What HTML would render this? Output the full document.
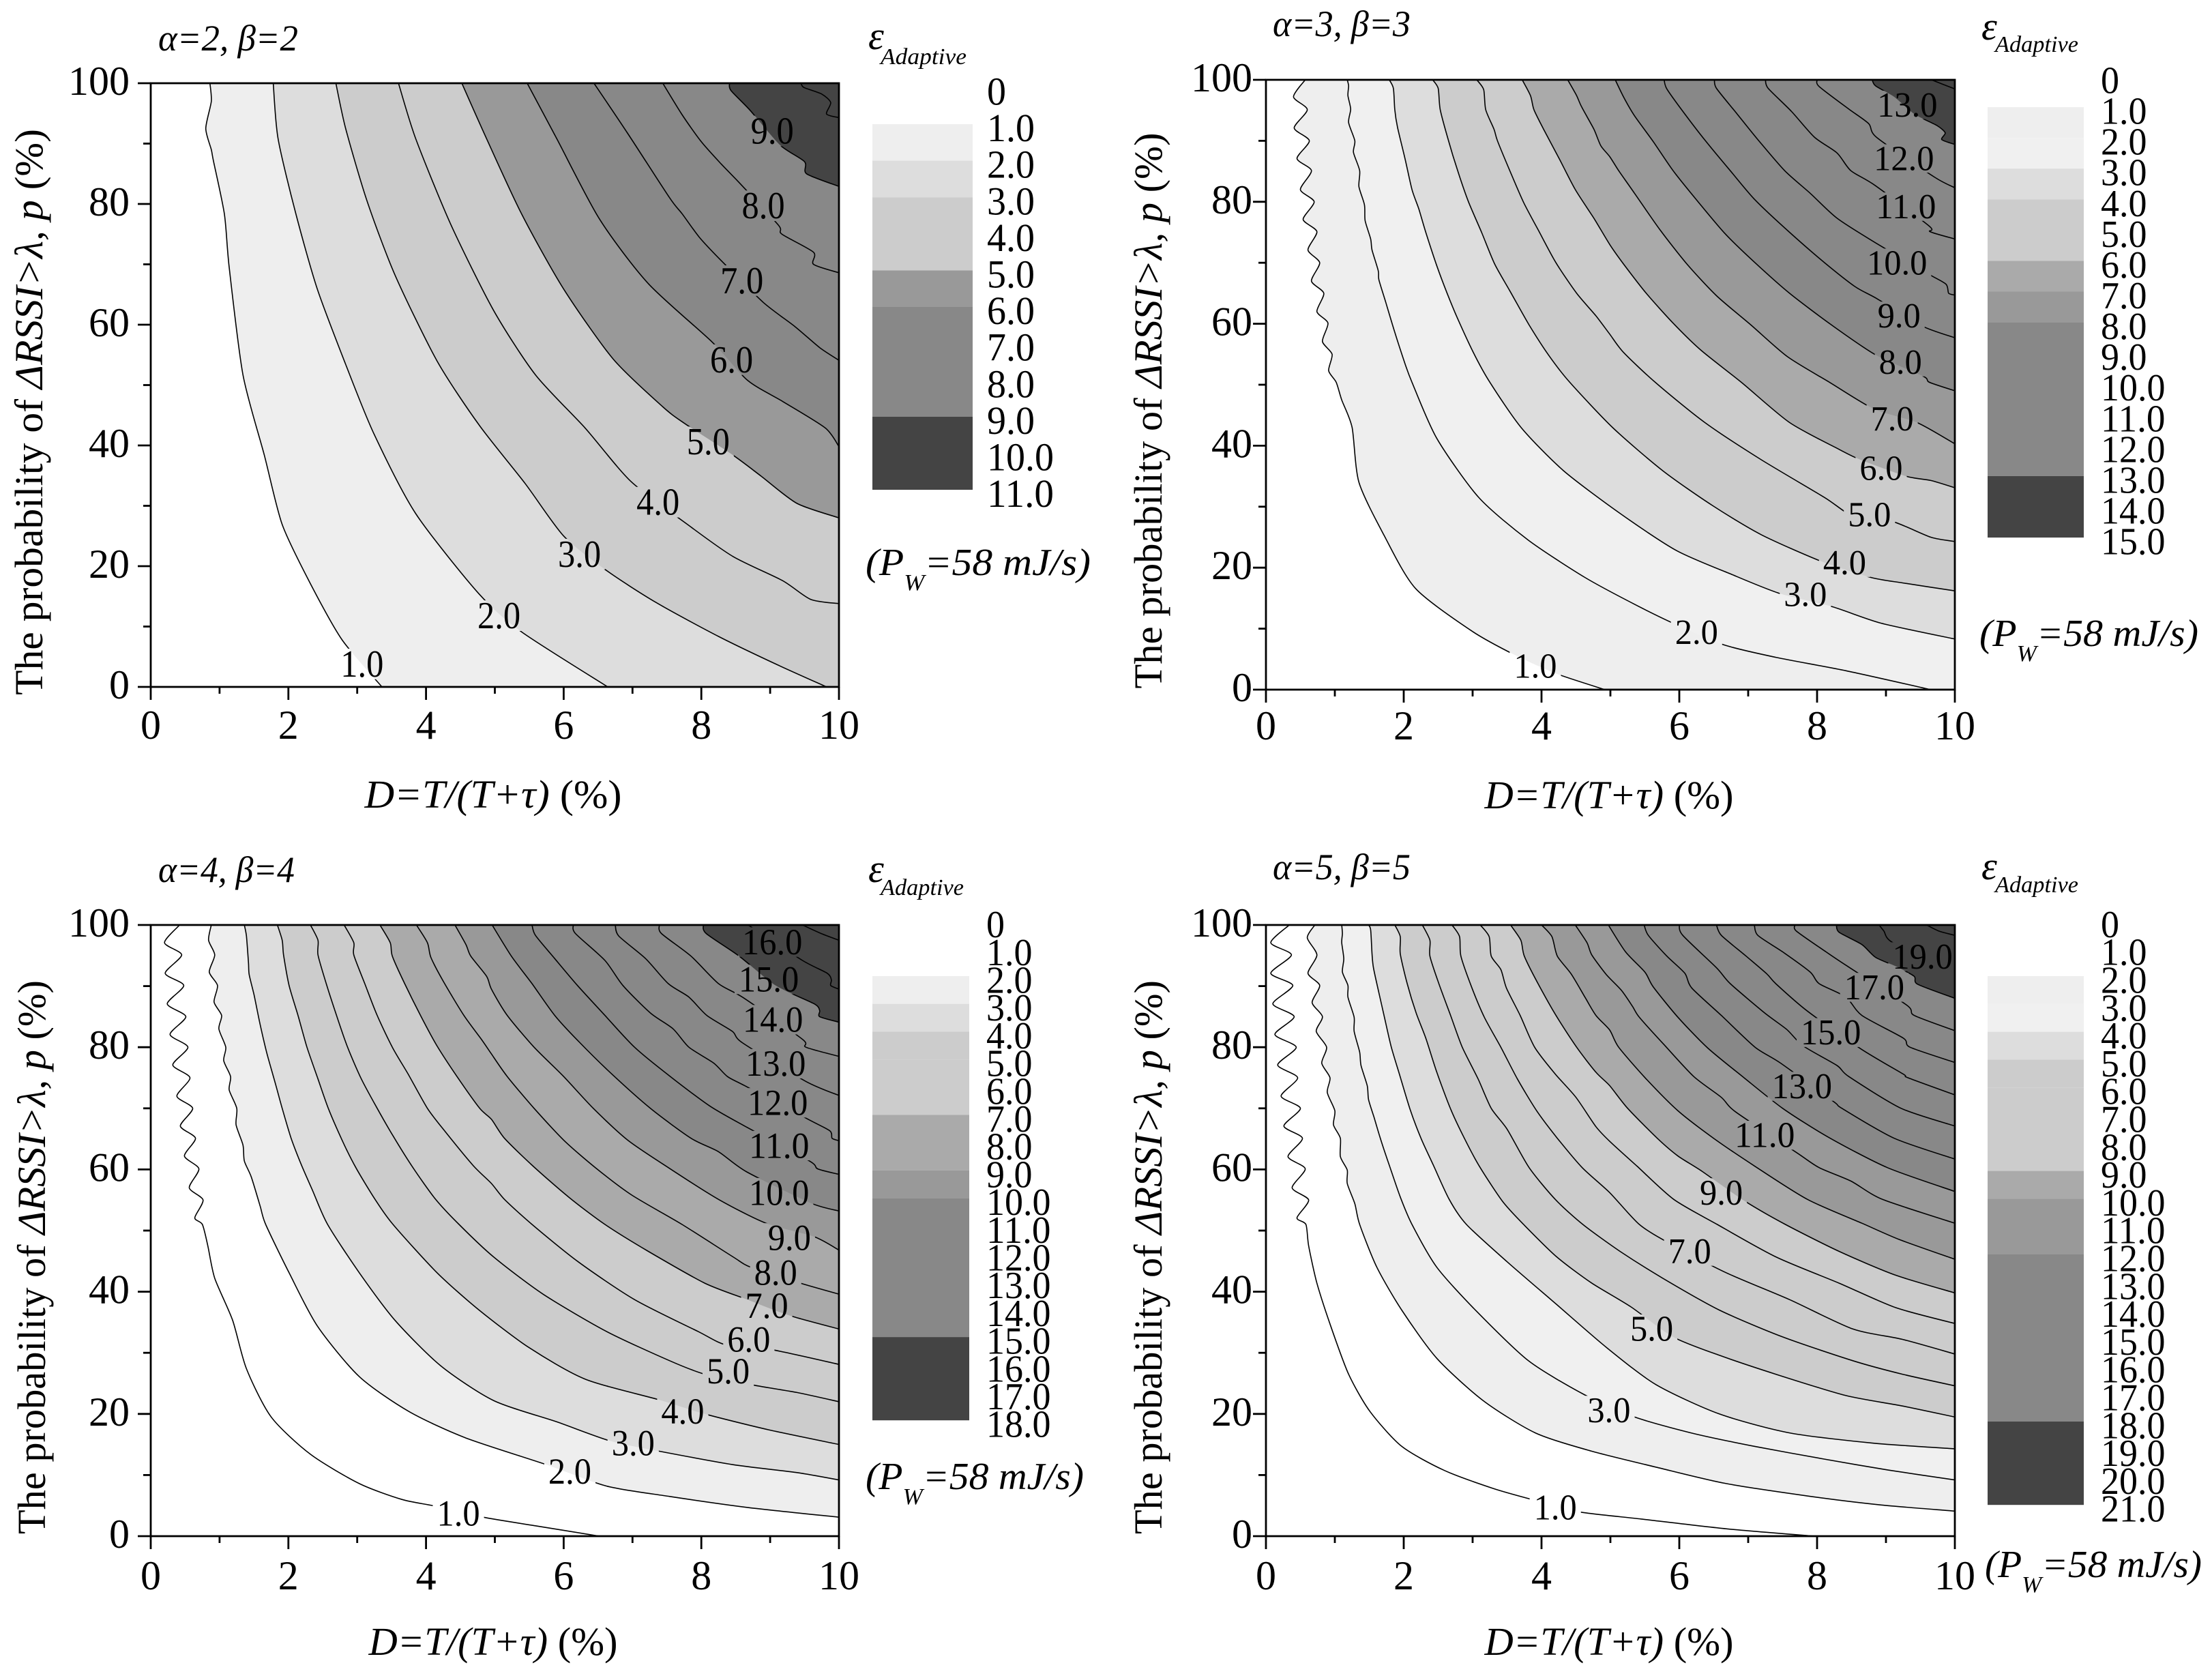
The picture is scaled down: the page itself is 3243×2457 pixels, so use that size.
<!DOCTYPE html>
<html lang="en">
<head>
<meta charset="utf-8">
<title>Adaptive energy contour charts</title>
<style>
html,body{margin:0;padding:0;background:#fff}
svg{display:block}
text{font-family:"Liberation Serif",serif;fill:#000}
.it{font-style:italic}
</style>
</head>
<body>
<svg id="figure" xmlns="http://www.w3.org/2000/svg" width="3243" height="2457" viewBox="0 0 3243 2457">
<rect x="0" y="0" width="3243" height="2457" fill="#fff"/>
<g id="panel-1"></g>
<g id="panel-2"></g>
<g id="panel-3"></g>
<g id="panel-4"></g>

<g>
<text class="it" x="232" y="74" font-size="54" textLength="205" lengthAdjust="spacingAndGlyphs">α=2, β=2</text>
<text transform="translate(62,604) rotate(-90)" text-anchor="middle" font-size="58" textLength="830" lengthAdjust="spacingAndGlyphs">The probability of <tspan class="it">ΔRSSI&gt;λ, p</tspan> (%)</text>
<text x="723" y="1184" text-anchor="middle" font-size="58" textLength="377" lengthAdjust="spacingAndGlyphs"><tspan class="it">D=T/(T+τ)</tspan> (%)</text>
<text class="it" x="1273" y="72" font-size="58">ε</text>
<text class="it" x="1291" y="94" font-size="34" textLength="126" lengthAdjust="spacingAndGlyphs">Adaptive</text>
<text class="it" x="1269" y="843" font-size="56" textLength="330" lengthAdjust="spacingAndGlyphs">(P<tspan dy="22" font-size="34">W</tspan><tspan dy="-22">=58 mJ/s)</tspan></text>
</g>
<g>
<text class="it" x="1866" y="53" font-size="54" textLength="202" lengthAdjust="spacingAndGlyphs">α=3, β=3</text>
<text transform="translate(1703,602) rotate(-90)" text-anchor="middle" font-size="58" textLength="815" lengthAdjust="spacingAndGlyphs">The probability of <tspan class="it">ΔRSSI&gt;λ, p</tspan> (%)</text>
<text x="2359" y="1185" text-anchor="middle" font-size="58" textLength="365" lengthAdjust="spacingAndGlyphs"><tspan class="it">D=T/(T+τ)</tspan> (%)</text>
<text class="it" x="2905" y="58" font-size="58">ε</text>
<text class="it" x="2925" y="76" font-size="34" textLength="122" lengthAdjust="spacingAndGlyphs">Adaptive</text>
<text class="it" x="2902" y="947" font-size="56" textLength="321" lengthAdjust="spacingAndGlyphs">(P<tspan dy="22" font-size="34">W</tspan><tspan dy="-22">=58 mJ/s)</tspan></text>
</g>
<g>
<text class="it" x="232" y="1293" font-size="54" textLength="200" lengthAdjust="spacingAndGlyphs">α=4, β=4</text>
<text transform="translate(66,1843) rotate(-90)" text-anchor="middle" font-size="58" textLength="812" lengthAdjust="spacingAndGlyphs">The probability of <tspan class="it">ΔRSSI&gt;λ, p</tspan> (%)</text>
<text x="723" y="2426" text-anchor="middle" font-size="58" textLength="365" lengthAdjust="spacingAndGlyphs"><tspan class="it">D=T/(T+τ)</tspan> (%)</text>
<text class="it" x="1273" y="1293" font-size="58">ε</text>
<text class="it" x="1291" y="1312" font-size="34" textLength="122" lengthAdjust="spacingAndGlyphs">Adaptive</text>
<text class="it" x="1269" y="2183" font-size="56" textLength="320" lengthAdjust="spacingAndGlyphs">(P<tspan dy="22" font-size="34">W</tspan><tspan dy="-22">=58 mJ/s)</tspan></text>
</g>
<g>
<text class="it" x="1866" y="1289" font-size="54" textLength="202" lengthAdjust="spacingAndGlyphs">α=5, β=5</text>
<text transform="translate(1703,1843) rotate(-90)" text-anchor="middle" font-size="58" textLength="812" lengthAdjust="spacingAndGlyphs">The probability of <tspan class="it">ΔRSSI&gt;λ, p</tspan> (%)</text>
<text x="2359" y="2426" text-anchor="middle" font-size="58" textLength="365" lengthAdjust="spacingAndGlyphs"><tspan class="it">D=T/(T+τ)</tspan> (%)</text>
<text class="it" x="2905" y="1289" font-size="58">ε</text>
<text class="it" x="2925" y="1308" font-size="34" textLength="122" lengthAdjust="spacingAndGlyphs">Adaptive</text>
<text class="it" x="2910" y="2312" font-size="56" textLength="318" lengthAdjust="spacingAndGlyphs">(P<tspan dy="22" font-size="34">W</tspan><tspan dy="-22">=58 mJ/s)</tspan></text>
</g>
</svg>
<script>
// ---- shared axis values ----
const xTickValues = [0,2,4,6,8,10];
const xMinorValues = [1,3,5,7,9];
const yTickValues = [0,20,40,60,80,100];
const yMinorValues = [10,30,50,70,90];

// ---- panel 1 (alpha=2, beta=2): contours as [D, p] pairs, level = index + 1 ----
const p1Contours = [
[[.86,100],[.88,97],[.80,92.5],[.88,89],[.91,87.2],[1.07,78.3],[1.14,69.5],[1.34,51.7],[1.65,38.4],[1.91,26.9],[2.32,17.1],[2.78,7.8],[3.36,0]],
[[1.78,100],[1.85,90.8],[2.11,78.3],[2.42,65.9],[2.83,53.5],[3.24,42],[3.85,28.7],[4.77,15.4],[5.39,9.1],[6.64,0]],
[[2.69,100],[2.83,92.6],[3.14,80.6],[3.55,68.2],[4.16,54],[4.77,43.4],[5.44,33.7],[6,25],[6.62,19.3],[7.34,14],[8.26,8.3],[9.08,3.8],[9.82,0]],
[[3.6,100],[3.85,90.8],[4.36,76.6],[4.98,62.4],[5.59,51.7],[6.31,42.9],[6.98,34],[7.8,26.9],[8.46,21.6],[9.18,17.6],[9.59,14.5],[10,13.8]],
[[4.52,100],[4.88,90.8],[5.39,78.3],[6,65.9],[6.72,54.3],[7.44,46.4],[7.75,43.7],[8.46,38.4],[8.87,34.9],[9.39,30.4],[10,28]],
[[5.47,100],[5.9,90.8],[6.52,77.5],[7.23,66.8],[8.16,57.1],[8.67,50.8],[9.18,47.3],[9.8,42.9],[10,39.8]],
[[6.44,100],[6.93,91.7],[7.54,81],[7.72,78.4],[7.97,74.5],[8.29,70.6],[8.9,63.7],[9.36,59.7],[9.72,56.2],[10,54.1]],
[[7.44,100],[7.72,94.8],[8,90.3],[8.29,86.6],[8.57,83.3],[9.12,76.5],[9.17,75],[9.63,72],[9.63,70],[10,68.6]],
[[8.41,100],[8.43,98.8],[8.71,95.5],[9.14,89.8],[9.5,87],[9.53,85],[10,82.9]],
[[9.45,100],[9.49,99.3],[9.75,98.2],[9.88,96.8],[9.82,94.9],[10,94.3]]
];
const p1Fills = ['#eeeeee','#dddddd','#cccccc','#cccccc','#999999','#888888','#888888','#888888','#444444','#444444'];
const p1LabelTexts = ['1.0','2.0','3.0','4.0','5.0','6.0','7.0','8.0','9.0'];
const p1LabelD = [3.07,5.06,6.23,7.37,8.1,8.44,8.59,8.9,9.03];
const p1LabelP = [3.8,11.8,22,30.6,40.6,54.2,67.3,79.7,92.1];
const p1LegendLabels = ['0','1.0','2.0','3.0','4.0','5.0','6.0','7.0','8.0','9.0','10.0','11.0'];
const p1LegendStarts = [1,2,3,5,6,9];
const p1LegendEnds = [2,3,5,6,9,11];
const p1LegendFills = ['#eeeeee','#dddddd','#cccccc','#999999','#888888','#444444'];

// ---- panel 2 (alpha=3, beta=3) ----
const p2Contours = [
[[.57,100],[.40,97.2],[.60,95.1],[.41,92.1],[.63,90],[.45,87.1],[.66,85.1],[.50,82],[.70,80],[.54,77.1],[.74,75.1],[.61,72.1],[.78,70],[.66,67],[.84,65],[.74,62],[.90,60.1],[.82,57.1],[.96,55],[.91,52.3],[1.02,50.4],[1.1,47.5],[1.25,43],[1.35,34],[1.71,25.4],[2.17,16.6],[2.99,9.6],[3.61,5.7],[4.22,2.6],[4.92,0]],
[[1.18,100],[1.20,99],[1.19,97.4],[1.23,95.2],[1.20,93],[1.29,90],[1.27,88.1],[1.36,85.1],[1.35,82.5],[1.43,79.5],[1.44,76.9],[1.52,73.9],[1.54,72.1],[1.63,68.7],[1.64,67.2],[1.74,63.5],[1.87,58.6],[2.02,53.4],[2.12,50.4],[2.48,41.2],[3.09,31.5],[3.81,24.5],[4.63,18.4],[5.35,14],[5.91,10.9],[6.63,7.4],[7.4,5.3],[8.42,3.1],[9.65,0]],
[[1.79,100],[1.85,98.6],[1.87,95.1],[1.91,92.2],[2.02,87],[2.12,82],[2.22,78.8],[2.32,75],[2.48,69.5],[2.63,65],[2.78,60.9],[3.01,55.3],[3.25,50.4],[3.71,42.9],[4.32,35.9],[5.14,28.9],[5.96,22.8],[6.78,18.8],[7.45,15.8],[8.22,13.6],[8.93,10.9],[10,8.3]],
[[2.42,100],[2.5,98.6],[2.53,95.1],[2.65,90],[2.78,85.2],[2.94,80],[3.13,75],[3.32,69.8],[3.54,65.4],[3.82,59.8],[4.1,54.9],[4.41,50.4],[5.04,42.9],[5.76,35.9],[6.48,30.2],[7.19,25.4],[8.07,21],[8.78,18.4],[9.24,17.5],[10,16.2]],
[[3.06,100],[3.16,98.4],[3.19,95.1],[3.31,91.9],[3.36,90],[3.54,85.1],[3.74,79.9],[3.97,75],[4.21,70],[4.51,65],[4.79,61.3],[4.99,58.3],[5.19,55.3],[5.65,50.4],[6.37,43.8],[7.19,37.7],[8.11,31.5],[8.52,28.5],[9.09,27.6],[9.65,25],[10,24.3]],
[[3.72,100],[3.84,97.4],[3.89,95.1],[4.03,91.9],[4.26,87],[4.49,82],[4.76,77.3],[4.99,73],[5.19,69.8],[5.52,65],[5.91,60.1],[6.31,55.7],[6.9,50.4],[7.6,43.8],[8.32,39.4],[8.63,37.7],[9.29,35],[9.65,34.3],[10,33.1]],
[[4.38,100],[4.51,97.4],[4.58,95.6],[4.76,91.9],[4.86,89.2],[4.99,87.4],[5.12,85.1],[5.35,81.4],[5.72,75.4],[6.11,69.8],[6.54,64.6],[7.04,59.8],[7.57,54.6],[8.18,50.4],[8.83,46],[9.45,43.8],[10,40.3]],
[[5.07,100],[5.19,97.2],[5.35,94.1],[5.62,89.9],[5.91,85.1],[6.28,79.9],[6.67,74.7],[7.1,70],[7.6,65],[8.21,59.8],[8.85,54.9],[9.54,51.4],[9.63,50.4],[10,49]],
[[5.78,100],[5.82,98.5],[6.08,94.4],[6.38,90],[6.74,85.1],[7.1,80.3],[7.6,75],[8.11,70],[8.55,66.1],[8.87,64.1],[9.53,59.6],[10,57.7]],
[[6.51,100],[6.54,98.6],[6.84,94.4],[7.14,90.2],[7.53,85.1],[7.9,81.4],[8.29,77.3],[8.83,73.4],[9.61,68.2],[9.87,66.5],[9.91,65],[10,64.7]],
[[7.25,100],[7.29,98.6],[7.63,94.8],[7.96,90.6],[8.29,88],[8.49,85.1],[8.84,82.7],[9.63,76],[9.64,75.1],[10,73.9]],
[[8,100],[8.03,98.9],[8.46,95.2],[8.75,92.8],[8.87,90.5],[9.71,84],[10,82.3]],
[[8.8,100],[8.85,99],[9.12,97.2],[9.41,94.4],[9.74,92.5],[9.86,91.3],[9.81,90.2],[10,89.4]],
[[9.66,100],[10,98.5]]
];
const p2Fills = ['#eeeeee','#f0f0f0','#dddddd','#cccccc','#cccccc','#aaaaaa','#999999','#888888','#888888','#888888','#888888','#888888','#444444','#444444'];
const p2LabelTexts = ['1.0','2.0','3.0','4.0','5.0','6.0','7.0','8.0','9.0','10.0','11.0','12.0','13.0'];
const p2LabelD = [3.91,6.25,7.83,8.4,8.76,8.93,9.09,9.21,9.19,9.16,9.29,9.26,9.31];
const p2LabelP = [3.9,9.4,15.6,20.8,28.7,36.3,44.4,53.7,61.3,70,79.2,87.1,95.9];
const p2LegendLabels = ['0','1.0','2.0','3.0','4.0','5.0','6.0','7.0','8.0','9.0','10.0','11.0','12.0','13.0','14.0','15.0'];
const p2LegendStarts = [1,2,3,4,6,7,8,13];
const p2LegendEnds = [2,3,4,6,7,8,13,15];
const p2LegendFills = ['#eeeeee','#f0f0f0','#dddddd','#cccccc','#aaaaaa','#999999','#888888','#444444'];

// ---- panel 3 (alpha=4, beta=4) ----
const p3Contours = [
[[.42,100],[.20,97.1],[.45,95.1],[.21,92.1],[.48,90.1],[.24,87.1],[.51,85],[.28,82.1],[.54,80],[.32,77.1],[.57,75],[.38,72],[.61,70],[.43,67.1],[.65,65.1],[.49,62.2],[.70,60.1],[.56,57],[.76,55],[.64,52.1],[.75,51],[.83,47.5],[.93,42.2],[1.19,35.3],[1.39,27.4],[1.75,19.5],[2.32,13.4],[3.03,8.6],[3.65,6],[4.14,4.9],[4.83,3.1],[5.59,1.7],[6.52,0]],
[[.88,100],[.84,97.5],[.93,95.1],[.85,92.3],[.97,90.1],[.92,87.4],[1.03,85.2],[.99,83],[1.09,80],[1.06,77.8],[1.16,75.2],[1.14,73],[1.25,70],[1.24,67.3],[1.34,64],[1.36,61.4],[1.46,58.8],[1.59,54],[1.67,51],[2.01,43.1],[2.42,34.4],[3.03,26.1],[3.75,20.4],[4.57,16.1],[5.75,11.7],[6.62,8.2],[7.54,6.5],[8.67,4.7],[10,3.1]],
[[1.36,100],[1.39,98.2],[1.42,93.8],[1.43,91.9],[1.50,88.6],[1.59,83.7],[1.69,78.9],[1.81,74.1],[1.91,70],[2.04,65.1],[2.19,60.7],[2.35,56.6],[2.57,51],[3.03,43.1],[3.55,35.3],[4.21,27.9],[4.98,22.2],[5.9,18.7],[6.67,15.6],[7.39,13.9],[8.46,11.7],[9.39,10.4],[10,9.2]],
[[1.84,100],[1.91,97.5],[1.93,95.1],[2.01,90.1],[2.14,85.2],[2.27,80],[2.43,74.8],[2.58,70],[2.78,64.8],[2.98,60.3],[3.26,55.1],[3.52,51],[4.16,43.1],[4.77,37],[5.49,30.9],[6.31,25.7],[7.39,22.3],[8.05,20],[8.98,17.4],[10,15]],
[[2.32,100],[2.43,97.5],[2.43,95.1],[2.55,90.4],[2.7,85.2],[2.86,80],[3.06,74.8],[3.29,70],[3.52,65.5],[3.81,60.3],[4.14,55.1],[4.48,51],[4.98,45.7],[5.7,39.6],[6.62,33.5],[7.54,28.7],[8.05,26.5],[8.72,24.8],[9.39,23.5],[10,22]],
[[2.81,100],[2.95,97.1],[2.95,95.1],[3.11,90.4],[3.29,85.2],[3.51,80],[3.74,75.6],[4.02,70],[4.25,66.6],[4.68,60.7],[4.95,57.7],[5.14,55.1],[5.54,51],[6.21,44.9],[7.03,38.7],[7.95,33.5],[8.36,31.3],[9.03,30.5],[10,28.1]],
[[3.33,100],[3.48,97.1],[3.51,94.9],[3.69,90.4],[3.92,85.2],[4.15,80.4],[4.45,75.2],[4.78,70],[4.95,68.2],[5.14,65.1],[5.54,60.7],[6.07,55.5],[6.6,51],[7.23,46.6],[8.05,41.4],[8.67,38.7],[9.28,36.1],[10,33.9]],
[[3.86,100],[4.02,97.1],[4.07,94.7],[4.25,90.8],[4.55,85.2],[4.81,81.2],[4.95,78.9],[5.18,75.2],[5.57,70],[6,64.8],[6.46,60.3],[6.99,55.8],[7.72,51],[8.46,45.7],[8.72,44],[9.44,41.4],[10,39.6]],
[[4.42,100],[4.58,96.8],[4.65,94.9],[4.88,91.6],[4.95,89.5],[5.18,85.2],[5.57,80],[6,75.2],[6.43,70],[6.93,64.8],[7.52,60.3],[8.25,55.1],[8.94,51.2],[9.64,49],[10,46.8]],
[[4.96,100],[5.24,94.9],[5.54,90.4],[5.87,85.2],[6.23,80.8],[6.7,75.6],[7.26,70],[7.85,65.1],[8.25,62.9],[8.66,59.6],[9.59,54.5],[10,53.2]],
[[5.54,100],[5.59,98.3],[5.87,94.5],[6.2,90.1],[6.6,85.2],[7.03,80],[7.55,75.2],[8.12,70.4],[8.63,67.1],[9.57,61.4],[9.69,60.1],[10,59.2]],
[[6.14,100],[6.17,98.6],[6.6,94.2],[6.86,90.1],[7.26,85.6],[7.59,83],[7.82,80],[8.18,77.4],[8.38,75.2],[8.63,73.7],[9.57,68.1],[9.87,66.3],[9.9,65.1],[10,64.7]],
[[6.75,100],[6.8,98.2],[7.19,94.5],[7.52,90.4],[7.82,88.2],[8.08,85.2],[8.45,82.6],[8.6,80.7],[9.52,74.4],[10,72.1]],
[[7.39,100],[7.42,98.6],[7.85,94.9],[8.25,90.4],[8.61,88.1],[9.47,81.3],[9.52,80],[10,78.5]],
[[8.03,100],[8.07,98.6],[8.55,94.9],[9.08,90.1],[9.64,87.1],[9.72,86],[9.72,85],[10,84.1]],
[[8.68,100],[9.47,94.2],[9.83,92.1],[9.89,91],[9.88,90.1],[10,89.5]],
[[9.47,100],[9.74,98.6],[10,97.5]]
];
const p3Fills = ['#ffffff','#eeeeee','#dddddd','#cccccc','#cccccc','#cccccc','#aaaaaa','#aaaaaa','#999999','#888888','#888888','#888888','#888888','#888888','#444444','#444444','#444444'];
const p3LabelTexts = ['1.0','2.0','3.0','4.0','5.0','6.0','7.0','8.0','9.0','10.0','11.0','12.0','13.0','14.0','15.0','16.0'];
const p3LabelD = [4.47,6.09,7.01,7.73,8.39,8.69,8.95,9.08,9.28,9.13,9.13,9.11,9.08,9.04,8.98,9.03];
const p3LabelP = [3.7,10.6,15.2,20.4,27,32.2,37.7,43.1,48.8,56.2,63.9,70.9,77.3,84.5,91.1,97.2];
const p3LegendLabels = ['0','1.0','2.0','3.0','4.0','5.0','6.0','7.0','8.0','9.0','10.0','11.0','12.0','13.0','14.0','15.0','16.0','17.0','18.0'];
const p3LegendStarts = [2,3,4,5,7,9,10,15];
const p3LegendEnds = [3,4,5,7,9,10,15,18];
const p3LegendFills = ['#eeeeee','#dddddd','#cccccc','#cccccc','#aaaaaa','#999999','#888888','#444444'];

// ---- panel 4 (alpha=5, beta=5) ----
const p4Contours = [
[[.34,100],[.07,97.1],[.37,95.1],[.07,92.1],[.39,90.1],[.10,87.1],[.41,85],[.13,82.1],[.44,80],[.17,77.1],[.46,75],[.22,72],[.5,70],[.26,67.1],[.53,65.1],[.32,62.1],[.57,60.1],[.38,57],[.62,55],[.45,52.1],[.58,51],[.62,47.5],[.74,41.4],[.94,34.4],[1.2,26.5],[1.51,20.4],[1.97,14.7],[2.58,10.8],[3.3,7.8],[3.86,6],[4.53,4],[5.45,2.8],[6.68,1.2],[7.96,0]],
[[.71,100],[.6,97.9],[.74,95.1],[.61,92.1],[.78,90.1],[.67,87.3],[.82,85],[.73,82.6],[.88,80],[.81,77.4],[.93,75],[.89,72.6],[1,69.6],[.98,67.3],[1.08,65.1],[1.08,62.1],[1.18,59.9],[1.18,57.7],[1.29,54.4],[1.36,51],[1.61,44],[1.97,37],[2.48,29.1],[3.15,22.2],[3.91,16.9],[4.73,13.9],[5.66,11.3],[6.68,8.6],[7.91,6.5],[8.93,5.1],[10,4.1]],
[[1.1,100],[1.11,98.6],[1.1,97.1],[1.13,94.5],[1.11,92.3],[1.19,90.1],[1.19,88.2],[1.28,84.9],[1.28,82.6],[1.36,79.2],[1.38,77],[1.47,73.7],[1.49,71.4],[1.57,68.5],[1.66,65.1],[1.79,60.7],[1.95,55.5],[2.12,51],[2.48,44],[3.04,37],[3.81,28.7],[4.63,23.1],[5.35,19.5],[6.17,16.9],[7.09,14.7],[8.11,12.6],[9.04,10.8],[10,9.2]],
[[1.49,100],[1.52,99.2],[1.54,95.3],[1.56,93],[1.64,88.9],[1.72,84.9],[1.82,80],[1.94,75.5],[2.09,69.9],[2.25,65.1],[2.43,60.7],[2.66,55.1],[2.91,51],[3.5,44.9],[4.22,37.9],[4.94,30.9],[5.66,24.8],[6.58,20],[7.6,16.9],[8.83,15.2],[10,14.3]],
[[1.87,100],[1.95,98.1],[1.95,95.3],[2.05,90.4],[2.18,85.6],[2.32,81.5],[2.48,75.9],[2.68,69.9],[2.88,65.1],[3.11,60.3],[3.44,54.7],[3.74,51],[4.22,45.7],[4.73,41.4],[5.3,37.5],[5.91,32.6],[6.58,29.6],[7.4,26.5],[8.42,23],[9.24,21.3],[10,19.5]],
[[2.27,100],[2.38,97.5],[2.38,94.9],[2.51,90.4],[2.68,85.2],[2.85,80],[3.08,74.8],[3.27,70],[3.5,66.6],[3.82,60.3],[4.2,55.1],[4.6,51],[5.14,46.6],[5.76,42.2],[6.58,37],[7.5,32.6],[8.52,28.7],[9.24,26.5],[10,24.6]],
[[2.7,100],[2.81,98.1],[2.83,94.9],[2.99,89.7],[3.17,84.9],[3.41,80],[3.65,74.8],[3.93,69.6],[4.23,65.1],[4.59,60.3],[4.99,56.2],[5.42,51],[5.86,47.9],[6.68,43.1],[7.6,38.7],[8.52,33.9],[9.24,32.2],[10,29.8]],
[[3.11,100],[3.24,98.1],[3.27,94.9],[3.41,92.7],[3.49,89.7],[3.69,85.2],[3.9,80],[4.2,75.6],[4.5,71.8],[4.79,67],[4.99,64.6],[5.39,60.5],[5.92,55.1],[6.55,51],[7.4,45.7],[8.32,41.4],[9.14,37.4],[10,34.8]],
[[3.55,100],[3.7,97.5],[3.75,94.9],[3.95,90.4],[4.21,85.2],[4.51,80],[4.79,75.9],[4.99,73.7],[5.25,70],[5.68,65.1],[5.98,62.2],[6.33,59.7],[6.94,54.9],[7.54,51],[8.32,46.6],[9.14,42.7],[10,39.8]],
[[4,100],[4.15,98.1],[4.23,94.9],[4.43,92],[4.63,88.2],[4.79,85.2],[4.99,82.8],[5.12,80],[5.52,74.8],[5.98,69.6],[6.51,65],[7.1,60.5],[7.86,55.1],[8.65,51.2],[9.2,48.5],[10,45.3]],
[[4.49,100],[4.66,97.1],[4.73,95.1],[4.94,91.9],[5.16,89.3],[5.32,86.7],[5.42,84.9],[5.78,80.4],[6.21,75.2],[6.61,71.8],[6.82,69.4],[7.71,62.7],[8.03,60.3],[8.49,58.1],[8.95,55.1],[10,51.2]],
[[4.97,100],[5.22,95.6],[5.5,92.3],[5.62,89.9],[5.98,84.9],[6.41,79.9],[6.94,75],[7.5,70],[8.16,65.3],[9.02,60.3],[10,56.4]],
[[5.49,100],[5.55,98.3],[5.82,94.9],[6.08,92.1],[6.18,89.7],[6.61,85.2],[7.1,80],[7.47,77.4],[8.24,71.1],[8.36,70],[9.12,65.1],[10,61.7]],
[[6,100],[6.05,98.3],[6.54,93],[6.74,90.4],[7.24,85.6],[7.56,82.9],[7.8,80.2],[8.29,77],[8.46,75.2],[9.22,70],[10,67.1]],
[[6.54,100],[6.61,98.3],[6.97,94.9],[7.27,92],[7.4,90.4],[7.86,85.9],[8.64,79.7],[9.25,75.6],[9.32,75],[10,72.2]],
[[7.09,100],[7.14,98.3],[7.5,95.6],[7.9,92.3],[8.03,90.4],[8.42,88.2],[8.65,85.2],[9.25,81.5],[9.35,80],[10,77.5]],
[[7.68,100],[7.7,99],[8.13,95.6],[8.42,93.4],[9.3,86.9],[9.41,85.2],[10,82.7]],
[[8.28,100],[8.32,98.8],[8.65,96.8],[8.85,94.7],[9.15,93.2],[9.41,91.6],[9.46,90.3],[10,88]],
[[8.9,100],[8.97,99],[9.1,97.1],[9.95,92.5]],
[[9.59,100],[9.77,99],[10,98.3]]
];
const p4Fills = ['#ffffff','#eeeeee','#f0f0f0','#dddddd','#cccccc','#cccccc','#cccccc','#cccccc','#aaaaaa','#999999','#999999','#888888','#888888','#888888','#888888','#888888','#888888','#444444','#444444','#444444'];
const p4LabelTexts = ['1.0','3.0','5.0','7.0','9.0','11.0','13.0','15.0','17.0','19.0'];
const p4LabelD = [4.2,4.98,5.6,6.15,6.61,7.24,7.78,8.2,8.83,9.53];
const p4LabelP = [4.7,20.6,33.9,46.6,56.2,65.6,73.6,82.4,89.8,94.8];
const p4LegendLabels = ['0','1.0','2.0','3.0','4.0','5.0','6.0','7.0','8.0','9.0','10.0','11.0','12.0','13.0','14.0','15.0','16.0','17.0','18.0','19.0','20.0','21.0'];
const p4LegendStarts = [2,3,4,5,6,9,10,12,18];
const p4LegendEnds = [3,4,5,6,9,10,12,18,21];
const p4LegendFills = ['#eeeeee','#f0f0f0','#dddddd','#cccccc','#cccccc','#aaaaaa','#999999','#888888','#444444'];

const SVGNS = 'http://www.w3.org/2000/svg';
function mk(tag, attrs, parent) {
  const el = document.createElementNS(SVGNS, tag);
  for (const k in attrs) el.setAttribute(k, attrs[k]);
  parent.appendChild(el);
  return el;
}
function emWidth(t) {
  let w = 0;
  for (const ch of t) w += ch === '.' ? 0.25 : 0.5;
  return w;
}
function curvePath(pts) {
  let d = 'M' + pts[0][0].toFixed(1) + ' ' + pts[0][1].toFixed(1);
  for (let i = 0; i < pts.length - 1; i++) {
    const a = pts[Math.max(i - 1, 0)], b = pts[i], c = pts[i + 1], e = pts[Math.min(i + 2, pts.length - 1)];
    const k = 1 / 8;
    d += 'C' + (b[0] + (c[0] - a[0]) * k).toFixed(1) + ' ' + (b[1] + (c[1] - a[1]) * k).toFixed(1) + ' ' +
         (c[0] - (e[0] - b[0]) * k).toFixed(1) + ' ' + (c[1] - (e[1] - b[1]) * k).toFixed(1) + ' ' +
         c[0].toFixed(1) + ' ' + c[1].toFixed(1);
  }
  return d;
}

function drawPanel(layout, contours, fills, labelTexts, labelD, labelP, legendLabels, legendStarts, legendEnds, legendFills) {
  const root = document.getElementById('panel-' + layout.id);
  const X = d => layout.left + d / 10 * (layout.right - layout.left);
  const Y = p => layout.bottom - p / 100 * (layout.bottom - layout.top);
  const labelSize = layout.labelSize;
  const labelEm = 50.5;
  const toPx = c => c.map(q => [X(q[0]), Y(q[1])]);

  const defs = mk('defs', {}, root);
  const clip = mk('clipPath', {id: 'clip-' + layout.id}, defs);
  mk('rect', {x: layout.left, y: layout.top, width: layout.right - layout.left, height: layout.bottom - layout.top}, clip);
  const mask = mk('mask', {id: 'mask-' + layout.id, maskUnits: 'userSpaceOnUse', x: 0, y: 0, width: 3243, height: 2457}, defs);
  mk('rect', {x: 0, y: 0, width: 3243, height: 2457, fill: '#fff'}, mask);
  labelTexts.forEach((t, i) => {
    const w = emWidth(t) * labelEm + 12;
    const h = labelSize * 0.8;
    mk('rect', {x: X(labelD[i]) - w / 2, y: Y(labelP[i]) - h / 2, width: w, height: h, fill: '#000'}, mask);
  });

  const fillGroup = mk('g', {'clip-path': 'url(#clip-' + layout.id + ')'}, root);
  
  
  contours.forEach((c, i) => {
    const last = c[c.length - 1];
    let d = curvePath(toPx(c));
    if (last[1] === 0) d += 'L' + X(10) + ' ' + Y(0);
    d += 'L' + X(10) + ' ' + Y(100) + 'Z';
    const band = mk('path', {d: d, fill: fills[i]}, fillGroup);
    
    
  });

  const clipGroup = mk('g', {'clip-path': 'url(#clip-' + layout.id + ')'}, root);
  const lineGroup = mk('g', {mask: 'url(#mask-' + layout.id + ')'}, clipGroup);
  
  
  contours.forEach((c, i) => {
    const line = mk('path', {d: curvePath(toPx(c)), fill: 'none', stroke: '#000', 'stroke-width': 1.6, 'stroke-linejoin': 'round'}, lineGroup);
    
    
  });

  const frame = mk('rect', {x: layout.left, y: layout.top, width: layout.right - layout.left, height: layout.bottom - layout.top, fill: 'none', stroke: '#000', 'stroke-width': 2.8}, root);
  
  

  const axisGroup = mk('g', {stroke: '#000', 'stroke-width': 2.8}, root);
  
  
  const tickSize = 60;
  xTickValues.forEach(v => {
    const t = mk('line', {x1: X(v), x2: X(v), y1: layout.bottom, y2: layout.bottom + 19}, axisGroup);
    
    
    const s = mk('text', {x: X(v), y: layout.bottom + layout.xLabelDy, 'text-anchor': 'middle', 'font-size': tickSize, stroke: 'none'}, axisGroup);
    s.textContent = String(v);
    
    
  });
  xMinorValues.forEach(v => {
    const t = mk('line', {x1: X(v), x2: X(v), y1: layout.bottom, y2: layout.bottom + 10}, axisGroup);
    
    
  });
  yTickValues.forEach(v => {
    const t = mk('line', {x1: layout.left - 19, x2: layout.left, y1: Y(v), y2: Y(v)}, axisGroup);
    
    
    const s = mk('text', {x: layout.left - layout.yLabelDx, y: Y(v) + 17, 'text-anchor': 'end', 'font-size': tickSize, stroke: 'none'}, axisGroup);
    s.textContent = String(v);
    
    
  });
  yMinorValues.forEach(v => {
    const t = mk('line', {x1: layout.left - 11, x2: layout.left, y1: Y(v), y2: Y(v)}, axisGroup);
    
    
  });

  const labelGroup = mk('g', {}, root);
  
  
  labelTexts.forEach((t, i) => {
    const s = mk('text', {x: X(labelD[i]), y: Y(labelP[i]) + labelSize * 0.33, 'text-anchor': 'middle', 'font-size': labelSize, textLength: emWidth(t) * labelEm, lengthAdjust: 'spacingAndGlyphs'}, labelGroup);
    s.textContent = t;
    
    
  });

  const legendGroup = mk('g', {}, root);
  
  
  legendStarts.forEach((start, i) => {
    const y0 = layout.legendY0 + start * layout.legendStep;
    const y1 = layout.legendY0 + legendEnds[i] * layout.legendStep;
    const r = mk('rect', {x: layout.legendX, y: y0, width: layout.legendW, height: y1 - y0, fill: legendFills[i]}, legendGroup);
    
    
  });
  legendLabels.forEach((t, i) => {
    const s = mk('text', {x: layout.legendTextX, y: layout.legendY0 + i * layout.legendStep + 6 + layout.legendSize * 0.33, 'font-size': layout.legendSize, textLength: emWidth(t) * layout.legendEm, lengthAdjust: 'spacingAndGlyphs'}, legendGroup);
    s.textContent = t;
    
    
  });
}

drawPanel({id:1,left:221,right:1230,top:122,bottom:1007,labelSize:56,xLabelDy:76,yLabelDx:31,legendX:1279,legendW:147,legendTextX:1447,legendY0:128.4,legendStep:53.6,legendSize:58,legendEm:56},
  p1Contours,p1Fills,p1LabelTexts,p1LabelD,p1LabelP,p1LegendLabels,p1LegendStarts,p1LegendEnds,p1LegendFills);
drawPanel({id:2,left:1856,right:2866,top:117,bottom:1011,labelSize:52,xLabelDy:73,yLabelDx:20,legendX:2914,legendW:141,legendTextX:3080,legendY0:112,legendStep:45.07,legendSize:56,legendEm:54},
  p2Contours,p2Fills,p2LabelTexts,p2LabelD,p2LabelP,p2LegendLabels,p2LegendStarts,p2LegendEnds,p2LegendFills);
drawPanel({id:3,left:221,right:1230,top:1356,bottom:2252,labelSize:54,xLabelDy:78,yLabelDx:31,legendX:1279,legendW:142,legendTextX:1446,legendY0:1349.6,legendStep:40.7,legendSize:56,legendEm:54},
  p3Contours,p3Fills,p3LabelTexts,p3LabelD,p3LabelP,p3LegendLabels,p3LegendStarts,p3LegendEnds,p3LegendFills);
drawPanel({id:4,left:1856,right:2866,top:1356,bottom:2252,labelSize:53,xLabelDy:78,yLabelDx:20,legendX:2914,legendW:141,legendTextX:3080,legendY0:1349.4,legendStep:40.8,legendSize:56,legendEm:54},
  p4Contours,p4Fills,p4LabelTexts,p4LabelD,p4LabelP,p4LegendLabels,p4LegendStarts,p4LegendEnds,p4LegendFills);
</script>
</body>
</html>
